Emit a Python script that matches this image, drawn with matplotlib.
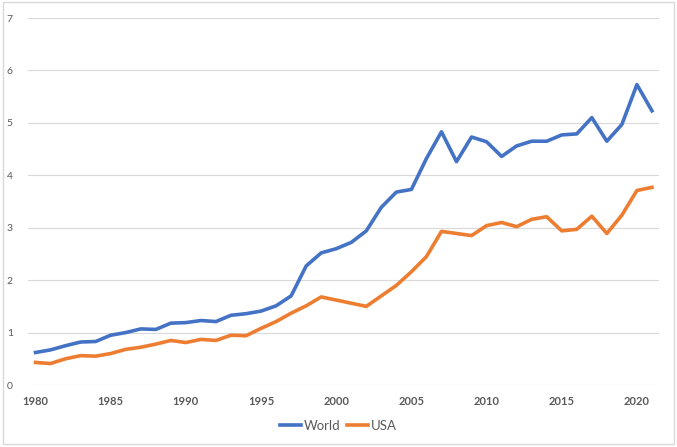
import matplotlib
matplotlib.use("Agg")
import matplotlib.pyplot as plt
from matplotlib.patches import Rectangle

years = list(range(1980, 2022))
world = [0.62, 0.67, 0.75, 0.82, 0.83, 0.95, 1.00, 1.07, 1.06, 1.18,
         1.19, 1.23, 1.21, 1.33, 1.36, 1.41, 1.51, 1.70, 2.27, 2.52,
         2.60, 2.72, 2.94, 3.39, 3.68, 3.73, 4.32, 4.83, 4.26, 4.73,
         4.64, 4.36, 4.56, 4.65, 4.65, 4.77, 4.79, 5.10, 4.65, 4.97,
         5.73, 5.23]
usa = [0.43, 0.41, 0.50, 0.56, 0.55, 0.60, 0.68, 0.72, 0.78, 0.85,
       0.81, 0.87, 0.85, 0.95, 0.94, 1.08, 1.21, 1.37, 1.51, 1.68,
       1.62, 1.56, 1.50, 1.70, 1.90, 2.16, 2.45, 2.93, 2.89, 2.85,
       3.04, 3.10, 3.02, 3.16, 3.21, 2.94, 2.97, 3.22, 2.89, 3.24,
       3.71, 3.77]
xticks = list(range(1980, 2021, 5))
yticks = list(range(0, 8))

plt.rcParams['font.family'] = ['Lato', 'DejaVu Sans']

fig = plt.figure(figsize=(6.77, 4.47), dpi=100)
ax = fig.add_axes([0.0414, 0.1387, 0.9327, 0.821])

ax.plot(years, world, color='#4472C4', lw=2.6, label='World', solid_joinstyle='round')
ax.plot(years, usa, color='#ED7D31', lw=2.6, label='USA', solid_joinstyle='round')

ax.set_xlim(1979.5, 2021.5)
ax.set_ylim(0, 7)
ax.set_xticks(xticks)
ax.set_yticks(yticks)
ax.grid(axis='y', color='#D9D9D9', lw=0.8)
ax.set_axisbelow(True)
for s in ax.spines.values():
    s.set_visible(False)
ax.tick_params(length=0, labelsize=7.5, labelcolor='#595959')
ax.tick_params(axis='y', pad=11)
ax.tick_params(axis='x', pad=8, labelsize=8)
for lab in ax.get_xticklabels():
    lab.set_fontweight('bold')

ax.legend(loc='center', ncol=2, frameon=False, fontsize=9.5, handlelength=1.6,
          handletextpad=0.2, columnspacing=0.5, labelcolor='#595959')
leg = ax.get_legend()
leg.set_bbox_to_anchor((0.5, 1 - 426 / 447), transform=fig.transFigure)

fig.patches.append(Rectangle((0.004, 0.006), 0.992, 0.99, transform=fig.transFigure,
                             fill=False, edgecolor='#D9D9D9', lw=1))

fig.savefig('out.png', dpi=100)
